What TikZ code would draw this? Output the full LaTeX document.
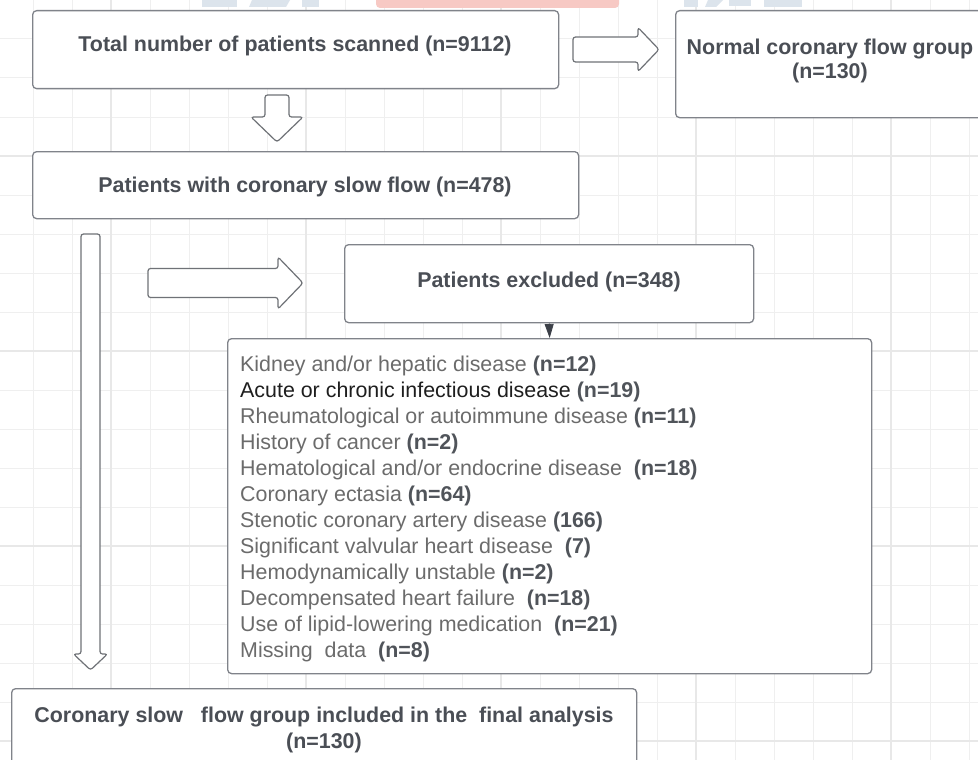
\documentclass[tikz,border=0pt]{standalone}
\usepackage{fontspec}
\setmainfont{Liberation Sans}
\usetikzlibrary{calc,arrows.meta}
\definecolor{gridminor}{HTML}{EFEFEF}
\definecolor{gridmajor}{HTML}{E8E8E8}
\definecolor{boxline}{HTML}{80838A}
\definecolor{arrline}{HTML}{6F7277}
\definecolor{titletext}{HTML}{4A4E55}
\definecolor{listtext}{HTML}{6B6B6B}
\definecolor{listnum}{HTML}{50545A}
\definecolor{listdark}{HTML}{1E1E1E}
\definecolor{wmpink}{HTML}{F7C9C4}
\definecolor{wmblue}{HTML}{DCE4EC}
\definecolor{tipcol}{HTML}{3C4048}
\newcommand\nb[1]{\textbf{\textcolor{listnum}{#1}}}
\newcommand\blockarr[6]{%
  \begin{scope}[shift={#1}, rotate=#2]
    \draw[barrow] (0,-#4) -- ({#3-#6},-#4) -- ({#3-#6},-#5) -- (#3,0) -- ({#3-#6},#5) -- ({#3-#6},#4) -- (0,#4) -- cycle;
  \end{scope}}
\tikzset{
  box/.style={draw=boxline, line width=1.3pt, rounded corners=4pt, fill=white, inner sep=0pt, anchor=north west},
  ttl/.style={font=\fontsize{21.4}{24}\selectfont\bfseries, text=titletext, inner sep=0pt, anchor=base},
  itm/.style={font=\fontsize{21.4}{26}\selectfont, text=listtext, inner sep=0pt, anchor=base west},
  barrow/.style={draw=arrline, line width=1.2pt, fill=white, rounded corners=2.5pt, line join=round},
}
\begin{document}
\begin{tikzpicture}[x=1pt,y=-1pt]
\useasboundingbox (0,0) rectangle (978,760);
\clip (0,0) rectangle (978,760);
\fill[white] (0,0) rectangle (978,760);
% grid
\foreach \gx in {-6,33,...,972} \draw[gridminor, line width=1pt] (\gx,0) -- (\gx,760);
\foreach \gy in {0,39,...,760} \draw[gridminor, line width=1pt] (0,\gy) -- (978,\gy);
\foreach \gx in {111,306,...,972} \draw[gridmajor, line width=1.1pt] (\gx,0) -- (\gx,760);
\foreach \gy in {156,351,...,760} \draw[gridmajor, line width=1.1pt] (0,\gy) -- (978,\gy);
% watermark fragments
\fill[wmpink, rounded corners=4pt] (376,-10) rectangle (619,8);
\fill[wmblue] (202,0) rectangle (237,7);
\fill[wmblue] (252,0) -- (290,0) -- (286,7) -- (249,7) -- cycle;
\fill[wmblue] (302,0) rectangle (319,7);
\fill[wmblue] (684,0) rectangle (698,7);
\fill[wmblue] (708,0) -- (723,0) -- (716,7) -- (705,7) -- cycle;
\fill[wmblue] (729,0) rectangle (751,6);
\fill[wmblue] (764,0) rectangle (802,7);
% block arrows
\blockarr{(573,49.5)}{0}{86}{12.5}{22}{21}
\blockarr{(277,95)}{-90}{47}{12}{26}{25}
\blockarr{(148,283)}{0}{155}{14.5}{26}{25}
\blockarr{(90.5,234)}{-90}{436}{9.5}{17}{16}
% boxes
\node[box, minimum width=526pt, minimum height=78pt] (A) at (32,10) {};
\node[box, minimum width=310pt, minimum height=107pt] (B) at (675,10) {};
\node[box, minimum width=546pt, minimum height=67pt] (C) at (32,151) {};
\node[box, minimum width=409pt, minimum height=78pt] (D) at (344,244) {};
\node[box, minimum width=644pt, minimum height=335pt] (E) at (227,338) {};
\node[box, minimum width=625pt, minimum height=110pt] (F) at (11,688) {};
% small connector
\draw[tipcol, line width=0.8pt, -{Triangle[length=14pt,width=9pt]}] (D.south) -- (E.north);
% titles
\node[ttl] (tA) at (295,52) {Total number of patients scanned (n=9112)};
\node[ttl] (tB1) at (830,55) {Normal coronary flow group};
\node[ttl] (tB2) at (830,78) {(n=130)};
\node[ttl] (tC) at (305,192) {Patients with coronary slow flow (n=478)};
\node[ttl] (tD) at (549,287) {Patients excluded (n=348)};
\node[ttl] (tF1) at (324,722) {Coronary slow\ \ \ flow group included in the\ \ final analysis};
\node[ttl] (tF2) at (324,748) {(n=130)};
% list
\node[itm] (i1) at (240,371) {Kidney and/or hepatic disease \nb{(n=12)}};
\node[itm] (i2) at (240,397) {\textcolor{listdark}{Acute or chronic infectious disease} \nb{(n=19)}};
\node[itm] (i3) at (240,423) {Rheumatological or autoimmune disease \nb{(n=11)}};
\node[itm] (i4) at (240,449) {History of cancer \nb{(n=2)}};
\node[itm] (i5) at (240,475) {Hematological and/or endocrine disease\ \ \nb{(n=18)}};
\node[itm] (i6) at (240,501) {Coronary ectasia \nb{(n=64)}};
\node[itm] (i7) at (240,527) {Stenotic coronary artery disease \nb{(166)}};
\node[itm] (i8) at (240,553) {Significant valvular heart disease\ \ \nb{(7)}};
\node[itm] (i9) at (240,579) {Hemodynamically unstable \nb{(n=2)}};
\node[itm] (i10) at (240,605) {Decompensated heart failure\ \ \nb{(n=18)}};
\node[itm] (i11) at (240,631) {Use of lipid-lowering medication\ \ \nb{(n=21)}};
\node[itm] (i12) at (240,657) {Missing\ \ data\ \ \nb{(n=8)}};
\end{tikzpicture}
\end{document}
